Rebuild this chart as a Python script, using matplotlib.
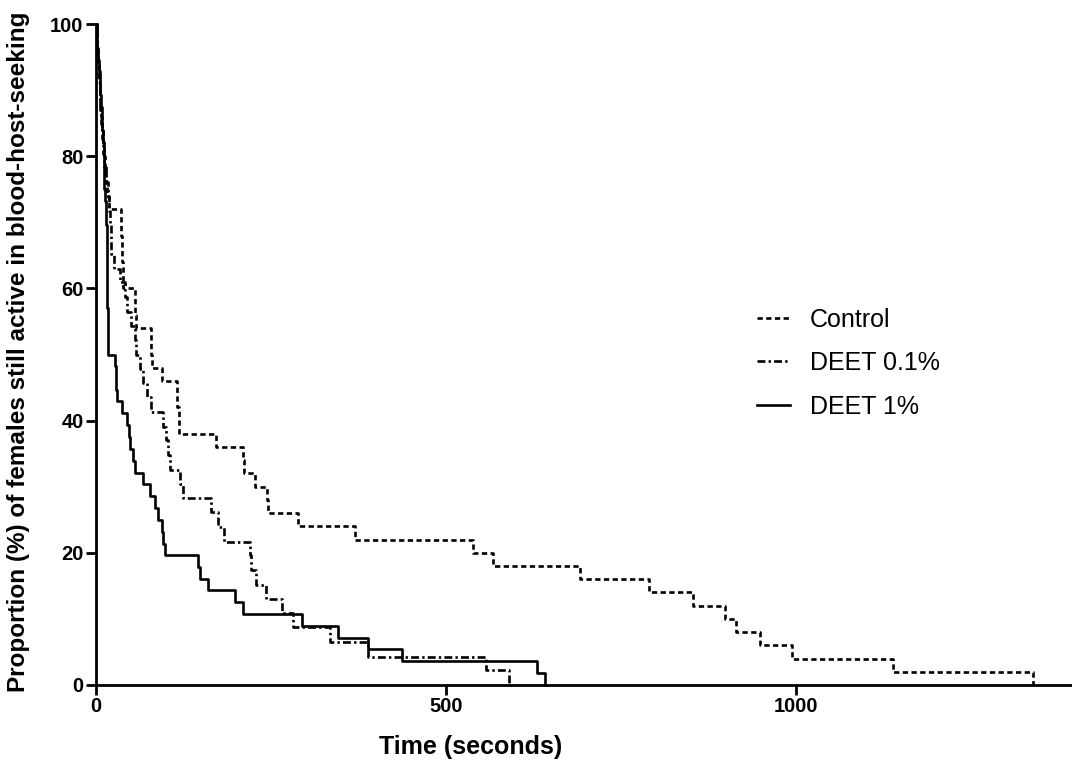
import matplotlib
matplotlib.use('Agg')
import matplotlib.pyplot as plt

plt.rcParams['font.family'] = ['Liberation Sans', 'DejaVu Sans']

# ── data ────────────────────────────────────────────────────────
# Control (n = 50)
ctrl_t = [0, 1, 2, 3, 4, 5, 6, 7, 8, 10, 12, 13, 14, 16, 19, 36, 37, 38, 39,
          56, 57, 79, 80, 94, 116, 118, 171, 210, 211, 227, 244, 245, 289,
          370, 539, 567, 691, 790, 853, 899, 914, 949, 994, 1139, 1339]
ctrl_p = [100, 98, 96, 94, 92, 90, 88, 86, 84, 82, 80, 78, 76, 74, 72, 68, 64, 62, 60,
          56, 54, 50, 48, 46, 42, 38, 36, 34, 32, 30, 28, 26, 24,
          22, 20, 18, 16, 14, 12, 10, 8, 6, 4, 2, 0]

# DEET 0.1% (n = 46)
d01_t = [0, 1, 2, 3, 4, 5, 6, 7, 8, 10, 12, 14, 17, 19, 20, 21, 22, 26, 34,
         41, 44, 50, 56, 57, 63, 67, 73, 79, 96, 100, 103, 106, 120, 124,
         164, 174, 183, 220, 222, 229, 243, 266, 281, 334, 389, 557, 590]
d01_p = [100, 97.8, 95.7, 93.5, 91.3, 89.1, 87.0, 84.8, 82.6, 80.4, 78.3, 76.1, 73.9,
         71.7, 69.6, 67.4, 65.2, 63.0, 60.9, 58.7, 56.5, 54.3, 52.2, 50.0, 47.8,
         45.7, 43.5, 41.3, 39.1, 37.0, 34.8, 32.6, 30.4, 28.3, 26.1, 23.9, 21.7,
         19.6, 17.4, 15.2, 13.0, 10.9, 8.7, 6.5, 4.3, 2.2, 0]

# DEET 1% (n = 56)
d1_t = [0, 1, 2, 3, 4, 5, 6, 7, 8, 9, 10, 11, 12, 13, 14, 15, 16, 17, 27, 28,
        29, 30, 37, 44, 47, 49, 53, 56, 67, 77, 84, 89, 94, 96, 99, 146, 149,
        160, 199, 210, 294, 346, 389, 437, 630, 641]
d1_p = [100, 98.2, 96.4, 94.6, 92.9, 91.1, 89.3, 87.5, 85.7, 83.9, 82.1, 78.6, 75.0,
        73.2, 69.6, 64.3, 57.1, 50.0, 48.2, 46.4, 44.6, 42.9, 41.1, 39.3, 37.5,
        35.7, 33.9, 32.1, 30.4, 28.6, 26.8, 25.0, 23.2, 21.4, 19.6, 17.9, 16.1,
        14.3, 12.5, 10.7, 8.9, 7.1, 5.4, 3.6, 1.8, 0]

x_ticks = [0, 500, 1000]
y_ticks = [0, 20, 40, 60, 80, 100]

fig = plt.figure(figsize=(10.72, 7.61), dpi=100)
ax = fig.add_axes([96 / 1072, 76 / 761, 976 / 1072, 661 / 761])

lw = 1.9
ax.step(ctrl_t, ctrl_p, where='post', color='black', lw=lw,
        dashes=(2.0, 1.3), label='Control', clip_on=False)
ax.step(d01_t, d01_p, where='post', color='black', lw=lw,
        dashes=(3.0, 1.2, 0.9, 1.2), label='DEET 0.1%', clip_on=False)
ax.step(d1_t, d1_p, where='post', color='black', lw=lw,
        label='DEET 1%', clip_on=False)

ax.set_xlim(0, 1394)
ax.set_ylim(0, 100)
ax.set_xticks(x_ticks)
ax.set_yticks(y_ticks)

for s in ['top', 'right']:
    ax.spines[s].set_visible(False)
for s in ['left', 'bottom']:
    ax.spines[s].set_linewidth(2)

ax.tick_params(direction='out', length=7, width=2, pad=2, labelsize=14.5)
for lab in ax.get_xticklabels() + ax.get_yticklabels():
    lab.set_fontweight('bold')

ax.set_xlabel('Time (seconds)', fontsize=18, fontweight='bold')
ax.xaxis.set_label_coords(0.384, -0.075)
ax.set_ylabel('Proportion (%) of females still active in blood-host-seeking',
              fontsize=17.5, fontweight='bold')
ax.yaxis.set_label_coords(-0.0676, 0.504)

ax.legend(loc='center left', bbox_to_anchor=(0.677, 0.487), frameon=False,
          fontsize=18, handlelength=1.32, handletextpad=0.8, labelspacing=0.78,
          borderpad=0, borderaxespad=0)

plt.savefig('out.png', dpi=100)
